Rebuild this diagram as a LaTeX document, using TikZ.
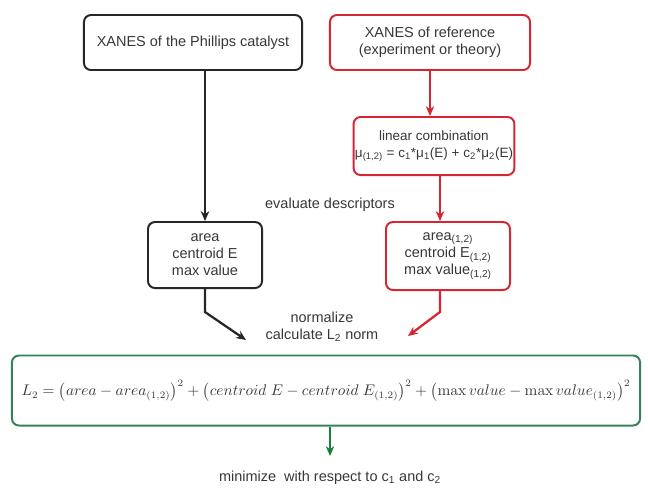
\documentclass[tikz,border=0pt]{standalone}
\usepackage[no-math]{fontspec}
\usepackage{amsmath}
\setmainfont{Liberation Sans}
\usetikzlibrary{arrows.meta, positioning}
\definecolor{boxred}{RGB}{214,38,50}
\definecolor{boxgreen}{RGB}{52,130,88}
\definecolor{arrgreen}{RGB}{24,128,56}
\definecolor{txtgray}{RGB}{55,55,55}
\newcommand{\sub}[1]{\textsubscript{#1}}

\begin{document}
\begin{tikzpicture}[x=0.025cm, y=-0.025cm,
    >={Stealth[length=7pt,width=6pt]},
    font=\fontsize{10.3}{12.2}\selectfont,
    every node/.style={text=txtgray},
    box/.style={draw, rounded corners=5pt, line width=1.4pt, align=center, inner sep=2pt},
    blackbox/.style={box, draw=black!85},
    redbox/.style={box, draw=boxred},
    greenbox/.style={box, draw=boxgreen},
    link/.style={->, line width=1.6pt}]

    \useasboundingbox (0,0) rectangle (648,489);

    \node[blackbox, minimum width=5.45cm, minimum height=1.375cm] (xanes_cat) at (193,42.5) {XANES of the Phillips catalyst};
    \node[redbox, minimum width=5cm, minimum height=1.375cm] (xanes_ref) at (430,42.5) {XANES of reference\\(experiment or theory)};
    \node[redbox, minimum width=3.95cm, minimum height=1.45cm, inner sep=1pt, font=\fontsize{9.6}{12}\selectfont] (lincomb) at (434,146) {linear combination\\μ\sub{(1,2)} = c\sub{1}*μ\sub{1}(E) + c\sub{2}*μ\sub{2}(E)};
    \node[blackbox, minimum width=2.85cm, minimum height=1.65cm] (desc_cat) at (205,255) {area\\centroid E\\max value};
    \node[redbox, minimum width=3.1cm, minimum height=1.7cm] (desc_ref) at (448,256) {area\sub{(1,2)}\\centroid E\sub{(1,2)}\\max value\sub{(1,2)}};
    \node (evaluate) at (330,205) {evaluate descriptors};
    \node[align=center] (normalize) at (322,327) {normalize\\calculate L\sub{2} norm};
    \node[greenbox, minimum width=15.7cm, minimum height=1.75cm, font=\fontsize{10.5}{12}\selectfont] (ltwo) at (326,390.5)
        {$L_2=\left(area-area_{(1,2)}\right)^2+\left(centroid\;E-centroid\;E_{(1,2)}\right)^2+\left(\max value-\max value_{(1,2)}\right)^2$};
    \node (minimize) at (330,478) {minimize\ \ with respect to c\sub{1} and c\sub{2}};

    \coordinate (bend_cat) at (205,312);
    \coordinate (tip_cat) at (246,340);
    \coordinate (bend_ref) at (440,312);
    \coordinate (tip_ref) at (408,336);
    \coordinate (goal) at (330,456);

    \draw[link, black!85] (desc_cat.north |- xanes_cat.south) -- (desc_cat.north);
    \draw[link, boxred] (xanes_ref.south) -- (xanes_ref.south |- lincomb.north);
    \draw[link, boxred] (lincomb.south -| bend_ref) -- (bend_ref |- desc_ref.north);
    \draw[link, black!85] (desc_cat.south) -- (bend_cat) -- (tip_cat);
    \draw[link, boxred] (desc_ref.south -| bend_ref) -- (bend_ref) -- (tip_ref);
    \draw[link, arrgreen] (ltwo.south -| goal) -- (goal);
\end{tikzpicture}
\end{document}
